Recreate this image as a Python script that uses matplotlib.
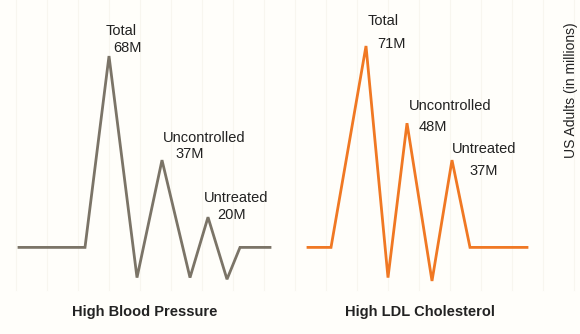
import matplotlib.pyplot as plt

plt.rcParams['font.family'] = ['Liberation Sans', 'DejaVu Sans']

# heartbeat-style traces, values in millions of US adults
bp_x = [19, 85, 109, 137, 162, 190, 208, 227, 240, 270]
bp_y = [11, 11, 68, 2, 37, 2, 20, 1.5, 11, 11]
ldl_x = [18, 41, 76, 98, 117, 142, 162, 180, 237]
ldl_y = [11, 11, 71, 2, 48, 1, 37, 11, 11]

peak_names = ["Total", "Uncontrolled", "Untreated"]
bp_peak_idx = [2, 4, 6]
ldl_peak_idx = [2, 4, 6]

panel_titles = ["High Blood Pressure", "High LDL Cholesterol"]
y_title = "US Adults (in millions)"

bg = '#fffefa'
ink = '#222222'

fig = plt.figure(figsize=(5.8, 3.34), dpi=100, facecolor=bg)

# faint vertical rules behind everything
back = fig.add_axes([0, 0, 1, 1])
back.set_xlim(0, 580)
back.set_ylim(334, 0)
back.axis('off')
for gx in range(16, 580, 31):
    back.plot([gx, gx], [0, 290], color='#f8f6ef', lw=0.8, zorder=0)

# (name dx, name dy, value dx, value dy) in pixels from each peak
bp_offsets = [(-3, 25, 4, 8), (1, 22, 13, 6), (-4, 19, 9, 2)]
ldl_offsets = [(2, 25, 11, 2), (2, 17, 12, -4), (0, 11, 17, -11)]

panels = [
    (0.0, bp_x, bp_y, bp_peak_idx, bp_offsets, '#7b7467'),
    (0.5, ldl_x, ldl_y, ldl_peak_idx, ldl_offsets, '#f07823'),
]

for (left, xs, ys, idx, offs, col), title in zip(panels, panel_titles):
    ax = fig.add_axes([left, 0, 0.5, 1])
    ax.patch.set_alpha(0)
    ax.set_xlim(0, 290)
    ax.set_ylim(-14.8, 84.7)
    ax.axis('off')
    ax.plot(xs, ys, color=col, lw=2.0, solid_joinstyle='miter')
    for name, i, (ndx, ndy, vdx, vdy) in zip(peak_names, idx, offs):
        ax.annotate(name, xy=(xs[i], ys[i]), xytext=(ndx, ndy),
                    textcoords='offset pixels', ha='left', va='center',
                    fontsize=10.5, color=ink)
        ax.annotate(f"{ys[i]:g}M", xy=(xs[i], ys[i]), xytext=(vdx, vdy),
                    textcoords='offset pixels', ha='left', va='center',
                    fontsize=10.5, color=ink)
    ax.text(0.5 if left == 0 else 0.448, 1 - 312 / 334, title,
            transform=ax.transAxes, ha='center', va='center',
            fontsize=10.5, fontweight='bold', color=ink)

fig.text(571 / 580, 1 - 90 / 334, y_title, rotation=90, ha='center',
         va='center', fontsize=10, color=ink)

fig.savefig('out.png', dpi=100, facecolor=bg)
